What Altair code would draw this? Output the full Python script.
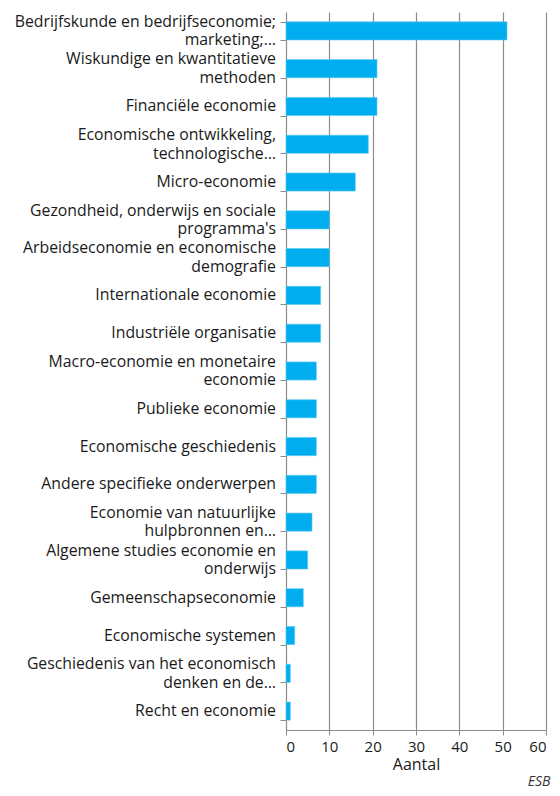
import altair as alt
import pandas as pd

categories = [
    "Bedrijfskunde en bedrijfseconomie;\nmarketing;…",
    "Wiskundige en kwantitatieve\nmethoden",
    "Financiële economie",
    "Economische ontwikkeling,\ntechnologische…",
    "Micro-economie",
    "Gezondheid, onderwijs en sociale\nprogramma's",
    "Arbeidseconomie en economische\ndemografie",
    "Internationale economie",
    "Industriële organisatie",
    "Macro-economie en monetaire\neconomie",
    "Publieke economie",
    "Economische geschiedenis",
    "Andere specifieke onderwerpen",
    "Economie van natuurlijke\nhulpbronnen en…",
    "Algemene studies economie en\nonderwijs",
    "Gemeenschapseconomie",
    "Economische systemen",
    "Geschiedenis van het economisch\ndenken en de…",
    "Recht en economie",
]
values = [51, 21, 21, 19, 16, 10, 10, 8, 8, 7, 7, 7, 7, 6, 5, 4, 2, 1, 1]
x_ticks = [0, 10, 20, 30, 40, 50, 60]

df = pd.DataFrame({"cat": categories, "n": values})

# one row per label line
rows = []
for c in categories:
    parts = c.split("\n")
    if len(parts) == 1:
        rows.append({"cat": c, "line": parts[0], "kind": "single"})
    else:
        rows.append({"cat": c, "line": parts[0], "kind": "first"})
        rows.append({"cat": c, "line": parts[1], "kind": "second"})
lab = pd.DataFrame(rows)

FONT = "Open Sans"
TEXT = "#1a1a1a"
GRID = "#8c8c8c"
LABEL_SIZE = 15.8
LINE_H = 18.5

yscale = alt.Scale(type="band", paddingInner=0.52, paddingOuter=0.26)

ysort = alt.Y(
    "cat:N",
    sort=categories,
    scale=yscale,
    axis=alt.Axis(
        title=None,
        labels=False,
        tickBand="extent",
        tickColor=GRID,
        tickSize=6,
        domainColor=GRID,
        grid=False,
    ),
)

bars = (
    alt.Chart(df)
    .mark_bar(color="#00AEEF", stroke="#5CC8F2", strokeWidth=0.6)
    .encode(
        x=alt.X(
            "n:Q",
            scale=alt.Scale(domain=[0, 60], nice=False),
            axis=alt.Axis(
                values=x_ticks,
                title="Aantal",
                titleFont=FONT,
                titleFontSize=16,
                titleFontWeight="normal",
                titleColor=TEXT,
                titlePadding=2,
                labelFont=FONT,
                labelFontSize=15,
                labelColor=TEXT,
                labelPadding=4,
                grid=True,
                gridColor=GRID,
                gridWidth=1.2,
                domainColor=GRID,
                tickColor=GRID,
                tickSize=5,
            ),
        ),
        y=ysort,
    )
)


def label_layer(kind, dy):
    return (
        alt.Chart(lab)
        .transform_filter(alt.datum.kind == kind)
        .mark_text(
            align="right",
            baseline="middle",
            font=FONT,
            fontSize=LABEL_SIZE,
            color=TEXT,
            dx=-10,
            dy=dy,
        )
        .encode(
            x=alt.value(0),
            y=alt.Y("cat:N", sort=categories, scale=yscale, bandPosition=0.5),
            text="line:N",
        )
    )


chart = (
    alt.layer(
        bars,
        label_layer("single", 0),
        label_layer("first", -LINE_H / 2),
        label_layer("second", LINE_H / 2),
    )
    .properties(
        width=260,
        height=718,
        autosize=alt.AutoSizeParams(type="none"),
        padding={"left": 278, "top": 4, "right": 6, "bottom": 66},
        title=alt.TitleParams(
            "ESB",
            orient="bottom",
            anchor="end",
            font=FONT,
            fontSize=14,
            fontStyle="italic",
            fontWeight="normal",
            color="#333333",
            dx=4,
            offset=3,
        ),
    )
    .configure_view(stroke=None)
)

chart.save("out.html", embed_options={"renderer": "svg", "actions": False})
